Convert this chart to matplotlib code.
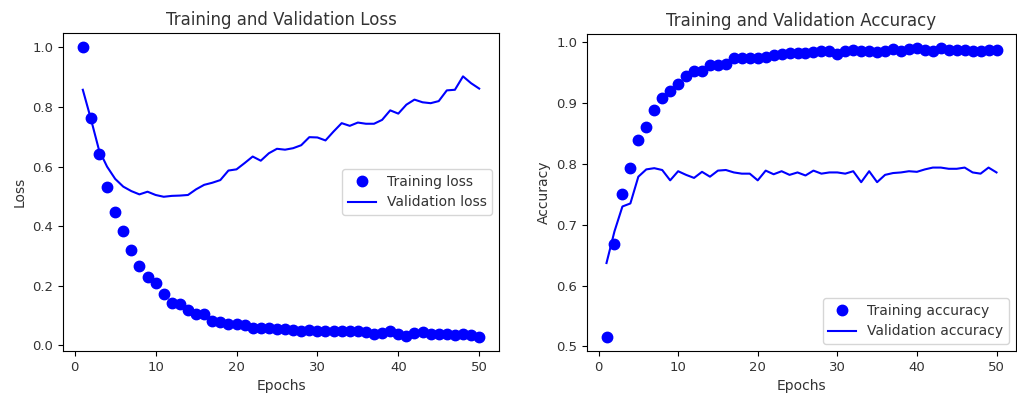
import matplotlib
matplotlib.use("Agg")
import matplotlib.pyplot as plt

epochs = list(range(1, 51))

train_loss = [1.000, 0.763, 0.642, 0.533, 0.447, 0.384, 0.322, 0.267, 0.230, 0.208,
              0.172, 0.144, 0.138, 0.118, 0.107, 0.105, 0.082, 0.078, 0.071, 0.073,
              0.068, 0.060, 0.058, 0.057, 0.055, 0.055, 0.052, 0.048, 0.053, 0.050,
              0.047, 0.047, 0.048, 0.047, 0.047, 0.045, 0.040, 0.043, 0.047, 0.040,
              0.033, 0.042, 0.045, 0.040, 0.037, 0.040, 0.035, 0.038, 0.036, 0.030]

val_loss = [0.858, 0.760, 0.656, 0.600, 0.559, 0.533, 0.518, 0.507, 0.516, 0.505,
            0.499, 0.502, 0.503, 0.505, 0.524, 0.539, 0.546, 0.555, 0.587, 0.591,
            0.612, 0.634, 0.620, 0.645, 0.660, 0.657, 0.662, 0.672, 0.699, 0.698,
            0.688, 0.718, 0.746, 0.737, 0.748, 0.744, 0.744, 0.757, 0.789, 0.778,
            0.808, 0.825, 0.816, 0.813, 0.820, 0.856, 0.858, 0.903, 0.880, 0.862]

train_acc = [0.516, 0.668, 0.751, 0.793, 0.840, 0.861, 0.888, 0.908, 0.920, 0.932,
             0.945, 0.953, 0.953, 0.963, 0.963, 0.964, 0.974, 0.975, 0.975, 0.975,
             0.976, 0.979, 0.980, 0.983, 0.983, 0.983, 0.984, 0.985, 0.985, 0.980,
             0.986, 0.987, 0.986, 0.986, 0.984, 0.986, 0.989, 0.985, 0.989, 0.990,
             0.988, 0.986, 0.990, 0.987, 0.987, 0.987, 0.986, 0.986, 0.988, 0.987]

val_acc = [0.637, 0.689, 0.730, 0.735, 0.779, 0.791, 0.793, 0.790, 0.773, 0.788,
           0.782, 0.777, 0.787, 0.779, 0.789, 0.790, 0.786, 0.784, 0.784, 0.773,
           0.789, 0.783, 0.788, 0.782, 0.786, 0.781, 0.789, 0.784, 0.786, 0.786,
           0.784, 0.788, 0.770, 0.788, 0.770, 0.782, 0.785, 0.786, 0.788, 0.787,
           0.791, 0.794, 0.794, 0.792, 0.792, 0.794, 0.786, 0.784, 0.794, 0.786]

plt.rcParams["font.size"] = 10
plt.rcParams["xtick.labelsize"] = 9.5
plt.rcParams["ytick.labelsize"] = 9.5
plt.rcParams["text.color"] = "#333333"
plt.rcParams["xtick.labelcolor"] = "#333333"
plt.rcParams["ytick.labelcolor"] = "#333333"
plt.rcParams["axes.labelcolor"] = "#333333"

fig = plt.figure(figsize=(10.17, 3.99), dpi=100)
W, H = 1017, 399

ax1 = fig.add_axes([63 / W, 1 - 351 / H, (499 - 63) / W, (351 - 33) / H])
ax1.plot(epochs, train_loss, "bo", markersize=7.5, label="Training loss")
ax1.plot(epochs, val_loss, "b", linewidth=1.5, label="Validation loss")
ax1.set_title("Training and Validation Loss", fontsize=12)
ax1.set_xlabel("Epochs")
ax1.set_ylabel("Loss")
ax1.legend(loc="center right", fontsize=10)

ax2 = fig.add_axes([587 / W, 1 - 351 / H, (1016 - 587) / W, (351 - 34) / H])
ax2.plot(epochs, train_acc, "bo", markersize=7.5, label="Training accuracy")
ax2.plot(epochs, val_acc, "b", linewidth=1.5, label="Validation accuracy")
ax2.set_title("Training and Validation Accuracy", fontsize=12)
ax2.set_xlabel("Epochs")
ax2.set_ylabel("Accuracy")
ax2.legend(loc="lower right", fontsize=10)

fig.savefig("out.png", dpi=100)
